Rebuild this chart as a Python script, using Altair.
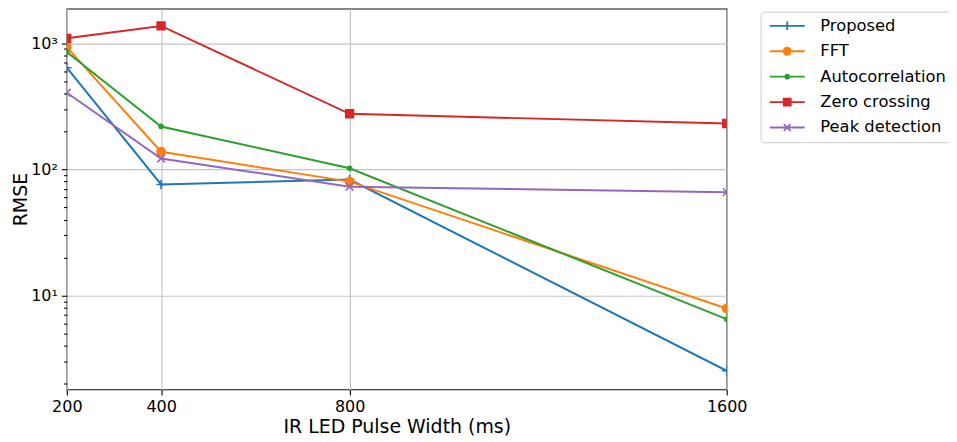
import altair as alt
import pandas as pd

# ---- data ----
x_vals = [200, 400, 800, 1600]
series_names = ["Proposed", "FFT", "Autocorrelation", "Zero crossing", "Peak detection"]
proposed = [640, 76, 83, 2.53]
fft = [931, 138, 80, 7.9]
autocorrelation = [852, 219, 102, 6.5]
zero_crossing = [1094, 1372, 276, 231]
peak_detection = [405, 122, 73, 66]
x_ticks = [200, 400, 800, 1600]
y_major = [10, 100, 1000]
y_minor = [2, 3, 4, 5, 6, 7, 8, 9, 20, 30, 40, 50, 60, 70, 80, 90,
           200, 300, 400, 500, 600, 700, 800, 900]

colors = ["#1f77b4", "#ff7f0e", "#2ca02c", "#d62728", "#9467bd"]

all_series = [proposed, fft, autocorrelation, zero_crossing, peak_detection]
rows = []
for name, vals in zip(series_names, all_series):
    for xv, yv in zip(x_vals, vals):
        rows.append({"series": name, "x": xv, "rmse": yv})
df = pd.DataFrame(rows)

# marker shapes (plot) and legend shapes (line + marker)
marker_paths = [
    "M-1,0H1M0,-1V1",                                   # +
    "M1,0A1,1,0,1,1,-1,0A1,1,0,1,1,1,0Z",               # circle
    "M1,0A1,1,0,1,1,-1,0A1,1,0,1,1,1,0Z",               # point
    "M-1,-1H1V1H-1Z",                                   # square
    "M-1,-1L1,1M-1,1L1,-1",                             # x
]
marker_sizes = [90, 70, 18, 60, 60]
legend_paths = [
    "M-3.5,0H3.5M0,-0.85V0.85",
    "M-3.5,0H3.5M0.72,0A0.72,0.72,0,1,1,-0.72,0A0.72,0.72,0,1,1,0.72,0Z",
    "M-3.5,0H3.5M0.4,0A0.4,0.4,0,1,1,-0.4,0A0.4,0.4,0,1,1,0.4,0Z",
    "M-3.5,0H3.5M-0.7,-0.7H0.7V0.7H-0.7Z",
    "M-3.5,0H3.5M-0.68,-0.68L0.68,0.68M-0.68,0.68L0.68,-0.68",
]

FONT = "DejaVu Sans"
PW, PH = 662, 382

cscale = alt.Scale(domain=series_names, range=colors)
major_test = " || ".join(f"datum.value == {v}" for v in y_major)

x_enc = alt.X(
    "x:Q",
    title="IR LED Pulse Width (ms)",
    scale=alt.Scale(domain=[200, 1600], nice=False, zero=False),
    axis=alt.Axis(values=x_ticks, format="d", grid=True, tickSize=5.5,
                  labelFlush=False, labelPadding=4, titlePadding=3),
)
y_enc = alt.Y(
    "rmse:Q",
    title="RMSE",
    scale=alt.Scale(type="log", domain=[1.8, 1880], nice=False, zero=False),
    axis=alt.Axis(
        values=y_minor + y_major,
        labelExpr="datum.value == 10 ? '10¹' : datum.value == 100 ? '10²' : datum.value == 1000 ? '10³' : ''",
        grid=True,
        labelFlush=False,
        gridOpacity={"condition": {"test": major_test, "value": 1}, "value": 0},
        tickSize={"condition": {"test": major_test, "value": 5.5}, "value": 3.2},
        labelPadding=4,
        titlePadding=0,
    ),
)

base = alt.Chart(df)

legend_layer = base.transform_filter("false").mark_point(
    filled=True, opacity=1, strokeWidth=1.8
).encode(
    x=x_enc, y=y_enc,
    color=alt.Color("series:N", scale=cscale,
                    legend=alt.Legend(
                        title=None, orient="none", direction="vertical",
                        legendX=696, legendY=3,
                        symbolSize=100, symbolStrokeWidth=1.8, symbolOpacity=1,
                        symbolOffset=12.5,
                        labelFont=FONT, labelFontSize=16.4, labelColor="black",
                        labelOffset=25, labelLimit=300, rowPadding=8.5,
                        padding=6, fillColor="white", strokeColor="#cccccc",
                        cornerRadius=4)),
    stroke=alt.Stroke("series:N", scale=cscale),
    shape=alt.Shape("series:N", scale=alt.Scale(domain=series_names, range=legend_paths)),
)

lines = base.mark_line(strokeWidth=2, clip=True).encode(
    x=x_enc, y=y_enc,
    color=alt.Color("series:N", scale=cscale),
    detail="series:N",
    order="x:Q",
)

layers = [legend_layer, lines]
for name, path, size in zip(series_names, marker_paths, marker_sizes):
    layers.append(
        base.transform_filter(alt.datum.series == name).mark_point(
            shape=path, size=size, filled=True, opacity=1, strokeWidth=1.6, clip=True
        ).encode(
            x=x_enc, y=y_enc,
            color=alt.Color("series:N", scale=cscale),
            stroke=alt.Stroke("series:N", scale=cscale),
        )
    )

chart = alt.layer(*layers).properties(
    width=PW, height=PH,
    autosize=alt.AutoSizeParams(type="none"),
    padding={"left": 59, "top": 0, "right": 223, "bottom": 46},
).configure_view(
    stroke="#111111", strokeWidth=1.2
).configure_axis(
    domain=False,
    tickColor="black", tickWidth=1.1,
    gridColor="#c4c4c4", gridWidth=1.2,
    labelFont=FONT, labelFontSize=16, labelColor="black",
    titleFont=FONT, titleFontSize=19, titleFontWeight="normal", titleColor="black",
)

chart.save("out.html", embed_options={"renderer": "svg", "actions": False})
